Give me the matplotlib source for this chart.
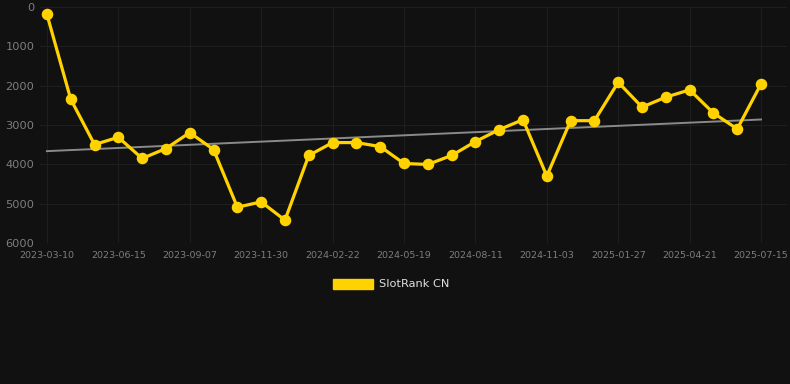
import numpy as np
import matplotlib
matplotlib.use('Agg')
import matplotlib.pyplot as plt
from matplotlib.patches import Patch

# SlotRank CN positions, one point per period
ranks = [185, 2343, 3497, 3312, 3851, 3598, 3194, 3624, 5090, 4955,
         5419, 3775, 3447, 3447, 3548, 3978, 4003, 3775, 3421, 3118,
         2865, 4298, 2890, 2890, 1913, 2545, 2292, 2107, 2697, 3101, 1955]
tick_labels = ['2023-03-10', '2023-06-15', '2023-09-07', '2023-11-30',
               '2024-02-22', '2024-05-19', '2024-08-11', '2024-11-03',
               '2025-01-27', '2025-04-21', '2025-07-15']
tick_every = 3
series_name = 'SlotRank CN'

bg = '#111111'
yellow = '#ffd200'

x = np.arange(len(ranks))
slope, intercept = np.polyfit(x, ranks, 1)

fig = plt.figure(figsize=(7.9, 3.84), dpi=100, facecolor=bg)
ax = fig.add_axes([40 / 790, 1 - 243 / 384, 747 / 790, 236 / 384])
ax.set_facecolor(bg)

ax.plot(x, slope * x + intercept, color='#8a8a8a', lw=1.4, zorder=2)
ax.plot(x, ranks, color=yellow, lw=2.3, marker='o', ms=7.3, zorder=3)

ax.set_ylim(6000, 0)
ax.set_xlim(-0.29, 31.09)
ax.set_yticks([0, 1000, 2000, 3000, 4000, 5000, 6000])
ax.set_xticks(x[::tick_every])
ax.set_xticklabels(tick_labels)

ax.grid(True, color='#1e1e1e', lw=0.8)
ax.set_axisbelow(True)
for s in ax.spines.values():
    s.set_visible(False)
ax.tick_params(axis='both', length=0, colors='#7d7d7d')
ax.tick_params(axis='x', labelsize=6.8, pad=6)
ax.tick_params(axis='y', labelsize=8.2, pad=4)

handle = Patch(facecolor=yellow, edgecolor=yellow)
fig.legend([handle], [series_name], loc='center', bbox_to_anchor=(0.495, 1 - 284 / 384),
           frameon=False, fontsize=8.2, labelcolor='#e0e0e0',
           handlelength=3.5, handleheight=1.0, handletextpad=0.5)

fig.savefig('out.png', dpi=100, facecolor=bg)
